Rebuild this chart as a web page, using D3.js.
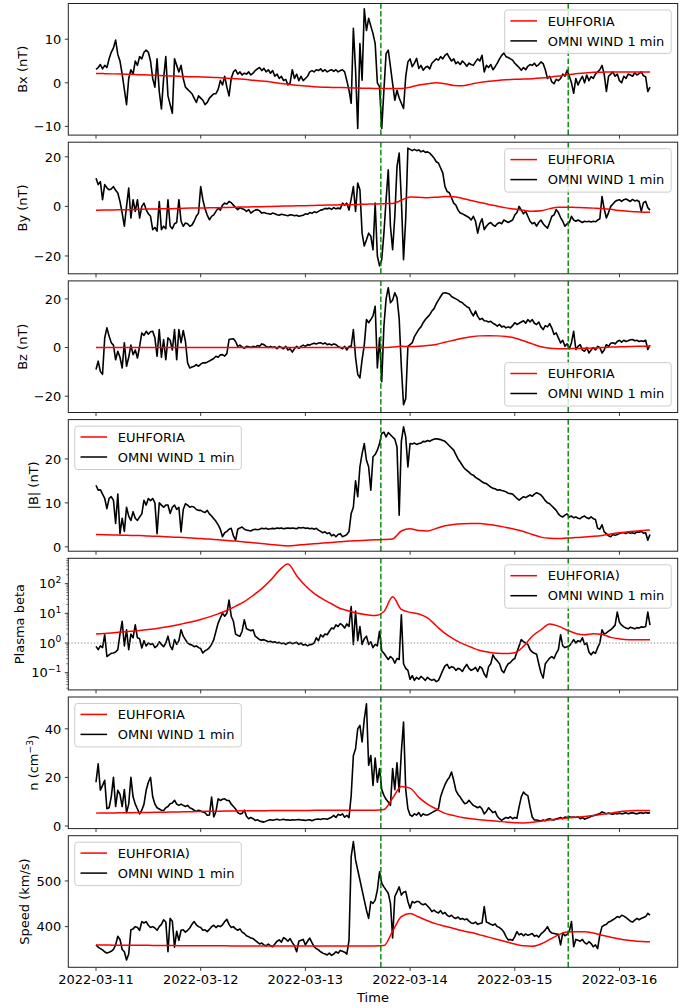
<!DOCTYPE html>
<html>
<head>
<meta charset="utf-8">
<script src="https://cdn.jsdelivr.net/npm/d3@7"></script>
<style>
  body { margin: 0; background: #fff; }
  svg { display: block; font-family: "DejaVu Sans", sans-serif; }
</style>
</head>
<body>
<svg id="chart" width="692" height="1008"></svg>
<script>
// ---- time base -------------------------------------------------------------
const startUtc = Date.UTC(2022, 2, 11, 0, 0);   // 2022-03-11 00:00 UT
const omniStepHours = 0.5;                       // OMNI values resampled every 30 min
const euhforiaHours = d3.range(0, 127, 2).concat([127]);
const dayTicks = ["2022-03-11", "2022-03-12", "2022-03-13", "2022-03-14", "2022-03-15", "2022-03-16"];
const eventTimes = ["2022-03-13T17:18:00Z", "2022-03-15T12:15:00Z"];

// ---- OMNI WIND (one row = 5 hours) -----------------------------------------
const omniBx = [
  3.1, 3.5, 4.2, 3.2, 4.0, 3.5, 5.5, 7.0, 8.0, 9.8,
  6.5, 5.0, 2.0, -1.5, -5.0, 1.0, 3.0, 2.0, 5.0, 4.0,
  6.0, 5.5, 7.0, 7.5, 7.0, 5.0, 1.0, -1.0, 5.5, -2.0,
  -6.0, 1.0, 6.0, -3.0, -5.0, -7.0, 5.5, 4.0, 2.5, 4.0,
  1.0, -1.0, -1.5, -2.0, -2.5, -3.5, -4.5, -3.0, -3.5, -4.0,
  -5.0, -4.5, -3.5, -3.0, -2.5, -2.5, -1.5, 0.5, -0.5, 1.5,
  -1.0, -3.0, 1.0, 2.5, 3.0, 2.0, 2.5, 1.8, 2.2, 2.0,
  2.5, 1.8, 2.2, 2.8, 3.2, 3.5, 2.8, 3.3, 2.5, 3.0,
  2.2, 2.8, 1.5, 2.0, 1.0, 1.5, 0.5, 0.8, -0.5, 0.0,
  3.0, 1.0, 2.0, 0.5, 1.5, 0.5, 1.0, 1.5, 2.5, 2.8,
  2.5, 3.0, 2.8, 3.2, 2.6, 3.0, 2.5, 2.8, 3.0, 2.6,
  3.0, 2.5, 2.8, 3.0, 2.5, 0.5, -1.7, -4.7, 12.5, 3.0,
  -10.5, 9.0, 0.6, 17.0, 12.0, 14.8, 13.0, 11.3, 9.0, 0.0,
  -0.9, -10.5, -1.7, 6.7, 7.5, 3.7, -0.2, -4.0, -1.7, -3.5,
  -4.7, -5.9, 1.4, 4.8, 5.5, 3.7, 4.5, 5.6, 3.3, 4.0,
  2.9, 3.5, 3.8, 3.2, 4.5, 5.0, 5.5, 5.2, 6.0, 5.5,
  6.3, 6.7, 5.8, 5.0, 5.5, 4.4, 4.8, 4.2, 5.0, 4.5,
  3.8, 4.5, 4.2, 4.0, 4.8, 5.5, 5.0, 6.3, 2.5, 4.0,
  3.5, 4.2, 3.0, 3.7, 4.5, 5.5, 6.3, 6.8, 6.0, 5.8,
  5.5, 5.2, 4.5, 4.0, 3.5, 2.9, 3.5, 3.0, 3.8, 4.2,
  4.0, 4.5, 3.8, 4.2, 4.8, 4.4, 3.0, 1.0, 1.5, 0.2,
  -0.2, 0.8, 0.5, 1.0, 2.0, 1.5, 2.9, 1.5, 0.0, -2.4,
  1.0, -0.5, 0.6, 1.5, 0.0, 1.8, 0.5, 1.4, 1.0, 2.0,
  2.5, 3.0, 4.0, 2.0, -2.0, 1.5, 2.0, 2.5, 1.5, 2.0,
  0.5, 0.0, 1.5, 1.0, 2.0, 1.8, 1.5, 2.3, 1.8, 2.1,
  2.5, 1.6, 1.4, -2.0, -1.0
];

const omniBy = [
  11.4, 8.8, 10.0, 2.7, 8.8, 7.5, 6.7, 7.0, 8.0, 6.5,
  5.4, 2.0, -2.7, -8.0, 0.0, 7.4, -4.7, 2.7, -2.0, 2.7,
  -4.7, 0.0, 1.3, -1.3, -3.0, -4.0, -9.4, -8.5, -10.0, 2.0,
  -9.4, -8.0, -9.0, 2.7, -8.0, -9.0, -7.0, -6.5, 2.7, -6.0,
  -8.0, -6.7, -7.0, -8.0, -7.5, -6.0, -4.0, -2.7, 8.0, 2.7,
  -1.0, -3.5, -5.4, -4.0, -3.4, -2.0, -0.7, -1.5, 0.5, 1.3,
  1.0, 2.0, 1.5, 0.5, -0.5, -1.3, -0.5, -1.0, -1.3, -2.0,
  -1.3, -2.7, -2.0, -1.5, -1.3, -1.8, -2.7, -2.5, -2.8, -3.0,
  -3.2, -2.7, -3.0, -3.4, -3.6, -3.2, -3.4, -3.6, -3.8, -3.4,
  -3.5, -3.8, -3.6, -4.0, -3.8, -3.6, -3.0, -3.2, -2.5, -2.8,
  -2.2, -2.5, -2.0, -1.5, -1.3, -0.8, -1.0, -0.7, -1.2, -0.5,
  -1.0, -0.7, -1.0, 1.3, 0.5, 1.3, -1.5, 3.0, 8.0, -2.0,
  9.4, 6.7, -10.8, -16.0, -13.5, -10.8, -12.0, -17.5, 1.3, -20.0,
  -24.0, -21.5, -10.8, 2.7, 14.8, -8.0, -17.5, -4.0, 16.0, 21.5,
  2.7, -21.5, -5.0, 23.5, 23.0, 22.5, 23.0, 22.5, 22.8, 22.0,
  22.5, 21.8, 22.0, 21.5, 20.5, 19.5, 18.0, 17.5, 15.5, 13.5,
  8.0, 6.0, 5.5, 3.5, 1.3, 0.5, -1.5, -2.7, -3.0, -3.5,
  -4.0, -4.5, -5.5, -4.0, -6.0, -10.8, -7.0, -5.0, -9.4, -8.0,
  -7.0, -6.5, -7.5, -8.0, -7.0, -6.5, -7.0, -5.5, -6.0, -6.5,
  -6.0, -5.5, -3.5, -2.5, 0.0, -1.5, -3.0, -2.0, -4.0, -6.0,
  -7.0, -6.5, -8.0, -6.5, -5.5, -7.0, -8.0, -8.8, -6.5, -4.0,
  -3.5, -1.3, -2.5, -4.5, -6.0, -8.0, -7.0, -6.5, -4.0, -5.5,
  -6.0, -5.5, -6.0, -6.5, -6.0, -6.2, -6.0, -6.3, -6.0, -6.2,
  -5.5, -5.0, 4.0, -1.0, -4.7, -2.5, 0.0, 1.0, 2.0, 2.5,
  2.7, 2.0, 2.7, 3.0, 2.5, 2.0, 2.8, 2.2, 2.5, 2.0,
  -2.0, 1.5, 2.0, -0.5, -1.5
];

const omniBz = [
  -9.0, -5.6, -9.8, -11.0, 4.0, 8.1, 4.7, 2.0, 1.0, -5.0,
  -1.5, -4.0, -8.4, 2.0, -7.7, -4.0, 1.0, -2.9, -1.0, -4.3,
  0.5, 6.0, 5.0, 6.7, 5.5, 6.5, 6.7, 4.0, -3.6, 7.4,
  -4.0, 3.3, -5.0, 4.0, 3.0, -1.0, 7.4, -5.0, 7.4, 2.0,
  7.0, 2.6, -6.3, -8.4, -8.0, -7.7, -7.0, -7.7, -6.8, -6.3,
  -6.3, -6.0, -5.5, -5.0, -4.5, -3.6, -4.0, -3.0, -2.9, -3.5,
  -2.5, 3.3, 3.5, 3.6, 2.5, 0.5, 1.0, 0.2, -0.3, 0.5,
  0.3, 0.0, 0.5, 0.2, 0.8, 0.5, 1.5, 1.2, 0.5, 0.0,
  0.5, 0.0, 0.3, -0.5, 0.5, 0.0, -0.5, 0.5, -1.0, -0.5,
  -1.9, -0.5, 0.5, -0.3, 0.5, 1.0, 0.5, 1.2, 1.0, 1.5,
  1.8, 1.5, 1.9, 2.0, 1.5, 1.9, 1.2, 1.5, 1.0, 1.5,
  1.2, 0.5, 0.0, -0.5, 0.5, -1.0, 0.5, 0.5, 7.4, -4.0,
  -11.0, -12.5, -5.0, 1.0, 11.5, 10.2, 11.5, 13.0, 17.0, -8.4,
  4.0, -14.0, 8.8, 20.0, 24.6, 18.4, 19.5, 22.5, 20.5, 12.0,
  -8.0, -23.5, -21.0, 0.5, 1.2, 2.0, 4.5, 6.0, 7.5, 8.5,
  10.2, 11.5, 12.5, 13.5, 15.0, 16.0, 18.0, 19.5, 21.0, 22.3,
  22.5, 22.3, 22.0, 21.0, 20.5, 20.0, 19.5, 18.8, 18.4, 17.5,
  16.8, 16.4, 14.5, 13.0, 15.0, 12.8, 11.5, 12.0, 11.0, 10.9,
  10.5, 10.8, 10.0, 9.5, 8.8, 9.5, 8.5, 8.8, 8.1, 8.5,
  8.1, 9.0, 10.2, 9.5, 10.0, 10.5, 11.0, 10.0, 11.5, 10.5,
  11.5, 10.0, 9.5, 10.5, 8.5, 7.4, 9.0, 8.5, 9.8, 8.0,
  5.4, 6.0, 4.0, 1.9, 3.0, 0.5, 1.5, -0.5, 2.0, 6.7,
  -0.8, 0.5, 1.2, -1.0, -1.5, 0.0, -2.2, -1.0, 0.0, -1.0,
  0.5, 0.0, -2.2, -1.0, 1.2, 0.5, 1.8, 2.0, 1.5, 2.5,
  3.0, 2.2, 3.0, 2.5, 2.8, 3.2, 3.3, 2.8, 3.0, 2.5,
  2.8, 2.5, 3.0, -0.8, 1.0
];

const omniBtot = [
  14.0, 12.9, 13.0, 12.0, 11.0, 8.7, 11.0, 11.4, 10.6, 5.3,
  12.0, 3.0, 6.5, 3.5, 9.0, 7.0, 6.0, 8.0, 6.5, 6.0,
  6.8, 7.5, 10.6, 9.5, 11.0, 10.5, 11.0, 10.0, 3.0, 10.0,
  9.5, 9.0, 9.5, 9.5, 7.6, 9.0, 9.5, 8.5, 9.0, 3.4,
  8.5, 9.8, 9.5, 9.0, 9.2, 9.0, 8.5, 8.3, 8.3, 8.0,
  7.8, 8.3, 7.5, 7.0, 6.4, 5.8, 5.0, 4.0, 2.3, 3.2,
  3.5, 4.0, 4.2, 2.5, 1.5, 4.0, 4.3, 4.5, 4.0, 3.8,
  3.7, 3.6, 3.9, 4.0, 3.9, 4.0, 4.2, 4.1, 4.2, 4.0,
  4.1, 4.2, 4.1, 4.3, 4.2, 4.3, 4.1, 4.2, 4.3, 4.2,
  4.3, 4.2, 4.1, 4.4, 4.3, 4.4, 4.2, 4.3, 4.1, 4.2,
  4.0, 4.2, 3.8, 3.5, 3.2, 3.4, 3.0, 3.2, 2.5, 2.8,
  2.3, 2.8, 3.0, 2.3, 2.5, 2.8, 3.5, 7.6, 9.0, 15.0,
  11.4, 18.2, 21.2, 23.5, 19.7, 18.2, 12.9, 20.5, 21.0, 22.0,
  23.5, 25.8, 26.1, 25.0, 26.0, 25.5, 25.0, 24.5, 22.7, 7.2,
  24.0, 27.3, 25.0, 18.2, 23.5, 23.4, 23.6, 23.3, 23.5, 23.6,
  24.0, 23.9, 24.2, 24.0, 24.3, 24.5, 24.6, 24.5, 24.4, 24.2,
  24.0, 23.5, 23.0, 22.5, 22.0, 21.0, 20.0, 19.3, 18.5, 17.8,
  17.4, 17.0, 16.5, 16.3, 15.8, 15.5, 15.2, 14.8, 14.5, 14.4,
  14.0, 13.6, 13.3, 13.2, 12.9, 13.0, 12.8, 12.7, 12.5, 12.2,
  12.1, 12.0, 11.5, 11.0, 10.6, 11.0, 11.4, 11.2, 11.5, 11.8,
  11.5, 12.0, 12.3, 12.1, 11.8, 11.2, 10.5, 10.0, 9.8, 9.3,
  8.8, 8.3, 7.5, 7.0, 6.8, 7.2, 7.5, 6.8, 7.0, 6.6,
  6.8, 6.5, 6.4, 6.8, 7.0, 6.6, 6.4, 6.8, 6.4, 6.2,
  4.2, 4.0, 5.0, 3.4, 3.0, 2.5, 2.3, 2.8, 2.6, 2.8,
  3.0, 3.2, 3.2, 3.0, 3.3, 3.1, 3.2, 3.0, 3.4, 3.3,
  3.5, 3.1, 3.2, 1.5, 2.8
];

const omniBeta = [
  0.77, 0.6, 0.8, 0.7, 1.9, 0.35, 0.4, 0.45, 0.46, 0.5,
  0.6, 2.0, 5.4, 0.8, 2.8, 0.6, 2.0, 1.5, 4.1, 1.5,
  1.4, 0.68, 1.2, 0.8, 1.0, 0.9, 0.95, 0.7, 0.8, 1.1,
  0.9, 0.75, 1.0, 1.7, 0.8, 0.6, 1.3, 0.9, 1.2, 2.8,
  1.7, 1.3, 1.0, 0.9, 0.85, 0.75, 0.8, 0.7, 0.65, 0.46,
  0.55, 0.6, 0.7, 0.9, 1.3, 2.5, 4.7, 7.0, 10.2, 8.0,
  10.0, 28.0, 8.0, 5.4, 2.0, 1.8, 1.7, 2.5, 6.1, 3.0,
  2.8, 2.6, 2.8, 1.7, 1.5, 1.3, 1.25, 1.3, 1.2, 1.1,
  1.15, 1.05, 1.1, 1.0, 1.05, 0.95, 1.0, 0.9, 1.0, 1.05,
  0.95, 1.0, 1.05, 0.9, 1.0, 0.85, 0.9, 0.8, 0.88, 0.9,
  1.0, 1.5, 1.2, 1.9, 1.6, 2.0, 1.9, 2.5, 3.2, 3.0,
  4.1, 3.6, 4.5, 4.0, 3.2, 4.4, 3.6, 17.0, 0.9, 12.0,
  1.2, 3.6, 0.9, 1.4, 1.7, 0.9, 1.1, 0.7, 0.9, 0.8,
  2.5, 0.55, 0.45, 0.35, 0.28, 0.35, 0.3, 0.21, 0.3, 0.28,
  9.0, 0.2, 0.14, 0.12, 0.06, 0.08, 0.055, 0.07, 0.06, 0.075,
  0.065, 0.055, 0.07, 0.06, 0.055, 0.06, 0.05, 0.055, 0.08, 0.12,
  0.17, 0.19, 0.14, 0.16, 0.15, 0.12, 0.14, 0.13, 0.11, 0.15,
  0.19, 0.14, 0.12, 0.13, 0.15, 0.11, 0.16, 0.14, 0.09, 0.07,
  0.16, 0.2, 0.4, 0.3, 0.25, 0.2, 0.12, 0.1, 0.15, 0.2,
  0.22, 0.27, 0.3, 0.5, 0.8, 1.3, 1.1, 1.0, 0.9, 0.6,
  0.5, 0.45, 0.42, 0.2, 0.1, 0.066, 0.2, 0.25, 0.31, 0.35,
  0.3, 0.45, 0.6, 1.9, 0.8, 0.7, 0.75, 0.8, 1.0, 1.3,
  1.0, 1.2, 1.1, 1.5, 0.9, 1.0, 0.5, 0.4, 0.5, 0.45,
  0.7, 1.0, 2.8, 2.0, 2.2, 2.5, 2.8, 3.3, 4.0, 11.0,
  5.0, 4.0, 3.5, 3.2, 3.0, 3.4, 3.2, 3.0, 3.3, 3.2,
  3.5, 3.4, 3.6, 11.0, 4.0
];

const omniDensity = [
  18.0, 25.6, 14.7, 16.7, 18.8, 7.1, 7.5, 12.0, 20.0, 8.0,
  14.7, 13.0, 8.0, 15.0, 5.5, 9.0, 20.0, 12.0, 9.0, 7.0,
  5.0, 6.5, 9.0, 14.7, 18.0, 20.0, 12.0, 9.0, 7.5, 7.0,
  6.5, 6.4, 7.5, 8.0, 9.2, 9.5, 10.6, 9.0, 8.5, 9.0,
  8.5, 8.0, 8.5, 7.5, 7.1, 6.5, 6.0, 6.5, 6.2, 5.8,
  5.5, 4.4, 4.5, 11.9, 3.7, 6.0, 11.2, 10.5, 11.0, 11.2,
  10.5, 10.5, 9.0, 8.0, 7.0, 5.5, 5.0, 5.2, 6.5, 4.0,
  3.0, 3.5, 3.0, 2.3, 2.6, 2.0, 1.8, 1.6, 2.0, 2.4,
  2.6, 2.4, 2.6, 2.8, 2.5, 2.6, 2.8, 2.5, 2.6, 2.4,
  2.6, 2.5, 2.6, 2.7, 2.5, 2.4, 2.3, 2.5, 2.6, 2.2,
  2.6, 2.8, 2.9, 2.7, 3.0, 3.0, 2.8, 3.2, 3.6, 4.4,
  3.5, 4.8, 4.4, 5.0, 3.6, 4.4, 3.4, 12.6, 29.0, 31.8,
  40.0, 41.4, 34.6, 44.0, 50.3, 25.0, 29.0, 16.7, 28.0, 18.0,
  23.6, 15.0, 12.6, 11.0, 9.9, 8.5, 23.6, 15.0, 26.0, 14.0,
  30.5, 42.8, 15.0, 7.1, 4.5, 4.0, 5.0, 4.5, 5.5, 4.0,
  5.0, 4.5, 4.5, 5.0, 5.5, 6.0, 6.5, 7.1, 12.0, 14.7,
  17.0, 18.8, 20.0, 22.2, 18.8, 14.7, 13.0, 11.9, 10.5, 9.2,
  9.5, 10.6, 9.5, 8.5, 8.0, 7.5, 8.0, 7.0, 5.0, 6.0,
  7.5, 6.5, 5.5, 6.0, 4.0, 3.0, 2.3, 3.0, 3.5, 3.2,
  3.8, 3.0, 3.5, 3.2, 8.0, 12.0, 14.0, 13.0, 12.5, 7.8,
  3.7, 2.5, 2.5, 2.3, 2.0, 2.5, 2.2, 2.8, 3.0, 2.6,
  2.5, 3.0, 3.2, 3.5, 3.0, 3.7, 3.5, 3.8, 3.6, 3.7,
  3.5, 3.8, 3.0, 3.5, 2.8, 3.2, 3.5, 4.0, 4.2, 4.5,
  4.8, 5.2, 5.8, 5.5, 5.0, 5.3, 5.0, 4.8, 5.2, 5.0,
  5.3, 5.0, 5.2, 5.5, 5.0, 5.3, 5.5, 5.2, 5.0, 5.3,
  5.5, 5.2, 5.6, 5.3, 5.5
];

const omniSpeed = [
  360, 355, 352, 349, 345, 342, 344, 346, 350, 360,
  379, 372, 350, 345, 327, 340, 393, 395, 400, 398,
  392, 411, 408, 411, 403, 398, 400, 397, 392, 400,
  405, 415, 410, 345, 418, 412, 355, 390, 370, 392,
  393, 388, 392, 397, 405, 411, 404, 400, 398, 392,
  393, 389, 394, 400, 403, 398, 402, 400, 404, 411,
  416, 405, 398, 400, 395, 392, 395, 388, 385, 380,
  378, 375, 374, 370, 366, 362, 364, 360, 358, 362,
  358, 356, 362, 368, 371, 366, 376, 373, 368, 374,
  365, 358, 345, 368, 370, 372, 360, 368, 375, 365,
  356, 352, 349, 345, 342, 340, 338, 342, 337, 340,
  345, 342, 348, 346, 344, 340, 370, 553, 586, 546,
  524, 502, 480, 458, 436, 418, 455, 451, 458, 480,
  520, 495, 487, 480, 473, 451, 375, 466, 476, 487,
  469, 475, 477, 455, 440, 455, 452, 455, 455, 450,
  448, 450, 445, 440, 433, 436, 432, 430, 435, 428,
  431, 425, 422, 425, 420, 418, 421, 416, 418, 415,
  417, 412, 408, 407, 410, 405, 407, 408, 444, 410,
  408, 405, 403, 406, 400, 398, 394, 388, 378, 371,
  372, 370, 378, 389, 382, 385, 380, 384, 381, 383,
  385, 379, 381, 377, 384, 388, 393, 400, 390, 386,
  385, 384, 383, 360, 386, 380, 383, 390, 411, 356,
  372, 370, 368, 372, 365, 362, 367, 363, 356, 360,
  352, 382, 400, 403, 405, 410, 412, 415, 418, 422,
  420, 425, 423, 420, 416, 412, 410, 414, 418, 415,
  418, 420, 422, 429, 425
];

// ---- EUHFORIA model (one value per entry of euhforiaHours) -----------------
const euhBx = [
  2.15, 2.1, 2.05, 2.0, 1.95, 1.85, 1.8, 1.7, 1.6, 1.55,
  1.45, 1.4, 1.35, 1.3, 1.2, 1.05, 0.95, 0.8, 0.6, 0.4,
  0.2, -0.1, -0.35, -0.55, -0.75, -0.9, -1.0, -1.05, -1.1, -1.15,
  -1.2, -1.25, -1.3, -1.3, -1.3, -1.3, -1.0, -0.5, -0.2, 0.0,
  -0.2, -0.6, -0.7, -0.3, 0.1, 0.35, 0.55, 0.7, 0.8, 0.85,
  0.95, 1.1, 1.3, 1.55, 1.85, 2.1, 2.25, 2.4, 2.45, 2.5,
  2.5, 2.5, 2.5, 2.5, 2.5
];
const euhBy = [
  -1.6, -1.5, -1.45, -1.35, -1.3, -1.2, -1.1, -1.05, -0.95, -0.9,
  -0.8, -0.7, -0.65, -0.55, -0.5, -0.4, -0.3, -0.25, -0.15, -0.1,
  0.0, 0.1, 0.15, 0.25, 0.3, 0.4, 0.5, 0.55, 0.65, 0.7,
  0.8, 0.9, 1.0, 1.1, 1.2, 2.5, 3.8, 3.7, 3.5, 3.7,
  4.0, 3.9, 3.2, 2.4, 1.6, 0.8, 0.1, -0.6, -1.1, -1.6,
  -2.0, -1.8, -0.9, -0.3, -0.3, -0.4, -0.5, -0.7, -0.9, -1.2,
  -1.7, -2.0, -2.2, -2.4, -2.4
];
const euhBz = [
  0, 0, 0, 0, 0, 0, 0, 0, 0, 0,
  0, 0, 0, 0, 0, 0, 0, 0, 0, 0,
  0, 0, 0, 0, 0, 0, 0, 0, 0, 0,
  0, 0, 0, 0, 0.2, 0.5, 0.4, 0.5, 0.8, 1.3,
  2.2, 3.0, 3.8, 4.4, 4.8, 4.9, 4.8, 4.5, 3.9, 2.8,
  1.5, 0.3, -0.3, -0.5, -0.5, -0.4, -0.3, -0.2, 0.0, 0.2,
  0.3, 0.4, 0.5, 0.5, 0.5
];
const euhBtot = [
  2.8, 2.75, 2.7, 2.65, 2.6, 2.55, 2.45, 2.4, 2.3, 2.2,
  2.1, 2.0, 1.9, 1.75, 1.6, 1.45, 1.3, 1.1, 0.95, 0.75,
  0.55, 0.35, 0.2, 0.35, 0.55, 0.7, 0.85, 1.0, 1.15, 1.3,
  1.4, 1.5, 1.6, 1.65, 1.8, 3.6, 4.1, 3.7, 3.6, 4.2,
  4.8, 5.1, 5.25, 5.3, 5.3, 5.1, 4.8, 4.4, 4.0, 3.5,
  2.8, 2.2, 1.95, 1.9, 2.0, 2.1, 2.25, 2.4, 2.6, 2.9,
  3.2, 3.45, 3.6, 3.75, 3.8
];
const euhBeta = [
  2.0, 2.1, 2.2, 2.35, 2.5, 2.65, 2.85, 3.1, 3.45, 3.9,
  4.5, 5.2, 6.2, 7.6, 9.6, 12.5, 17.5, 25, 40, 68,
  130, 280, 460, 185, 85, 47, 30, 21, 14.5, 12,
  10, 9.0, 8.4, 11.5, 36, 13.5, 10.8, 9.5, 7.0, 3.8,
  2.1, 1.36, 0.95, 0.72, 0.56, 0.49, 0.45, 0.44, 0.47, 0.77,
  1.7, 2.8, 4.4, 3.7, 2.7, 2.1, 1.9, 2.05, 1.95, 1.55,
  1.38, 1.3, 1.3, 1.3, 1.3
];
const euhDensity = [
  5.3, 5.35, 5.4, 5.45, 5.5, 5.55, 5.6, 5.65, 5.7, 5.75,
  5.85, 5.9, 6.0, 6.05, 6.1, 6.15, 6.2, 6.25, 6.3, 6.3,
  6.35, 6.35, 6.4, 6.4, 6.4, 6.45, 6.45, 6.5, 6.5, 6.5,
  6.5, 6.5, 6.5, 6.8, 11.5, 16.3, 15.6, 11.8, 9.0, 7.0,
  5.2, 4.3, 3.5, 3.0, 2.6, 2.3, 2.0, 1.6, 1.3, 1.25,
  1.5, 2.0, 2.5, 2.9, 3.3, 3.6, 3.9, 4.3, 4.8, 5.3,
  5.9, 6.2, 6.4, 6.4, 6.4
];
const euhSpeed = [
  360, 360, 359.5, 359.5, 359, 359, 359, 358.5, 358.5, 358.5,
  358, 358, 358, 358, 358, 358, 357.5, 357.5, 357.5, 357.5,
  357.5, 357.5, 357.5, 357.5, 357.5, 357.5, 357.5, 357.5, 357.5, 357.5,
  357.5, 357.5, 357.5, 358.5, 390, 422, 429, 421, 413, 406,
  401, 396, 391, 387, 382, 377, 372, 367, 362, 358,
  357, 362, 372, 382, 388, 389, 389, 386, 381, 377,
  373, 370, 368, 367, 367
];

// ---- axis ticks ------------------------------------------------------------
const bxTicks = [-10, 0, 10];
const byTicks = [-20, 0, 20];
const bzTicks = [-20, 0, 20];
const btotTicks = [0, 10, 20];
const betaTicks = [0.1, 1, 10, 100];
const densityTicks = [0, 20, 40];
const speedTicks = [400, 500];

const seriesNames = { model: "EUHFORIA", modelAlt: "EUHFORIA)", obs: "OMNI WIND 1 min" };

// ---- layout ----------------------------------------------------------------
const X0 = 68.3, X1 = 677.7;
const TOP0 = 3.5, PITCH = 138.7, PANEL_H = 131.6;
const FONT = 13;

const panels = [
  { label: [["Bx (nT)"]], omni: omniBx, euh: euhBx, domain: [-12.0, 18.2], ticks: bxTicks, legend: "ur", model: seriesNames.model },
  { label: [["By (nT)"]], omni: omniBy, euh: euhBy, domain: [-27.2, 25.9], ticks: byTicks, legend: "ur", model: seriesNames.model },
  { label: [["Bz (nT)"]], omni: omniBz, euh: euhBz, domain: [-26.7, 27.4], ticks: bzTicks, legend: "lr", model: seriesNames.model },
  { label: [["|B| (nT)"]], omni: omniBtot, euh: euhBtot, domain: [-1.0, 28.95], ticks: btotTicks, legend: "ul", model: seriesNames.model },
  { label: [["Plasma beta"]], omni: omniBeta, euh: euhBeta, domain: [Math.pow(10, -1.58), Math.pow(10, 2.855)], log: true, ticks: betaTicks, legend: "ur", model: seriesNames.modelAlt, refLine: 1 },
  { label: [["n (cm"], ["\u22123", "sup"], [")"]], omni: omniDensity, euh: euhDensity, domain: [-1.07, 53.1], ticks: densityTicks, legend: "ul", model: seriesNames.model },
  { label: [["Speed (km/s)"]], omni: omniSpeed, euh: euhSpeed, domain: [311, 599], ticks: speedTicks, legend: "ul", model: seriesNames.modelAlt }
];

const HOUR = 3600e3;
const omniTime = i => new Date(startUtc + i * omniStepHours * HOUR);
const euhTimes = euhforiaHours.map(h => new Date(startUtc + h * HOUR));

const tFirst = startUtc;
const tLast = Math.max(omniTime(omniBx.length - 1).getTime(), euhTimes[euhTimes.length - 1].getTime());
const span = tLast - tFirst;
const x = d3.scaleUtc()
  .domain([new Date(tFirst - 0.05 * span), new Date(tLast + 0.05 * span)])
  .range([X0, X1]);

const dayDates = dayTicks.map(s => new Date(s + "T00:00:00Z"));
const events = eventTimes.map(s => new Date(s));

const fmtNum = v => (v < 0 ? "\u2212" + Math.abs(v) : String(v));
const expLabel = v => {
  const e = Math.round(Math.log10(v));
  return e < 0 ? "\u2212" + Math.abs(e) : String(e);
};

const svg = d3.select("#chart");
const defs = svg.append("defs");

panels.forEach((p, i) => {
  const top = TOP0 + i * PITCH;
  const bottom = top + PANEL_H;
  const y = (p.log ? d3.scaleLog() : d3.scaleLinear()).domain(p.domain).range([bottom, top]);

  defs.append("clipPath").attr("id", "plot-clip-" + i)
    .append("rect").attr("x", X0).attr("y", top).attr("width", X1 - X0).attr("height", PANEL_H);

  const g = svg.append("g");
  const plot = g.append("g").attr("clip-path", `url(#plot-clip-${i})`);

  // observed series
  const obsLine = d3.line().x((d, j) => x(omniTime(j))).y(d => y(d));
  plot.append("path")
    .attr("d", obsLine(p.omni))
    .attr("fill", "none").attr("stroke", "#000").attr("stroke-width", 1.6)
    .attr("stroke-linejoin", "round");

  // model series
  const modelLine = d3.line().x((d, j) => x(euhTimes[j])).y(d => y(d)).curve(d3.curveMonotoneX);
  plot.append("path")
    .attr("d", modelLine(p.euh))
    .attr("fill", "none").attr("stroke", "#ff0000").attr("stroke-width", 1.5);

  // beta = 1 reference
  if (p.refLine != null) {
    plot.append("line")
      .attr("x1", X0).attr("x2", X1).attr("y1", y(p.refLine)).attr("y2", y(p.refLine))
      .attr("stroke", "#808080").attr("stroke-width", 1.1).attr("stroke-dasharray", "1.2 2");
  }

  // event markers
  events.forEach(t => {
    plot.append("line")
      .attr("x1", x(t)).attr("x2", x(t)).attr("y1", bottom).attr("y2", top)
      .attr("stroke", "#008000").attr("stroke-width", 1.4).attr("stroke-dasharray", "5.5 2.4");
  });

  // frame
  g.append("rect")
    .attr("x", X0).attr("y", top).attr("width", X1 - X0).attr("height", PANEL_H)
    .attr("fill", "none").attr("stroke", "#222").attr("stroke-width", 1);

  // x ticks
  dayDates.forEach(d => {
    g.append("line").attr("x1", x(d)).attr("x2", x(d)).attr("y1", bottom).attr("y2", bottom + 3.5)
      .attr("stroke", "#222").attr("stroke-width", 0.9);
  });

  // y ticks
  const tickG = g.append("g");
  p.ticks.forEach(v => {
    const yy = y(v);
    tickG.append("line").attr("x1", X0 - 3.5).attr("x2", X0).attr("y1", yy).attr("y2", yy)
      .attr("stroke", "#222").attr("stroke-width", 0.9);
  });
  if (p.log) {
    const [lo, hi] = p.domain;
    for (let e = Math.floor(Math.log10(lo)); e <= Math.ceil(Math.log10(hi)); e++) {
      for (let m = 2; m <= 9; m++) {
        const v = m * Math.pow(10, e);
        if (v <= lo || v >= hi) continue;
        tickG.append("line").attr("x1", X0 - 2).attr("x2", X0).attr("y1", y(v)).attr("y2", y(v))
          .attr("stroke", "#222").attr("stroke-width", 0.6);
      }
    }
  }
  const labels = tickG.selectAll("text.tick").data(p.ticks).enter().append("text")
    .attr("class", "tick")
    .attr("x", X0 - 7).attr("y", v => y(v) + 4.7)
    .attr("text-anchor", "end").attr("font-size", FONT).attr("fill", "#000");
  if (p.log) {
    labels.each(function (v) {
      const t = d3.select(this);
      t.append("tspan").text("10");
      t.append("tspan").attr("dy", -5.5).attr("font-size", 9.2).text(expLabel(v));
    });
  } else {
    labels.text(fmtNum);
  }

  // y label, placed just left of the tick labels
  const minX = d3.min(labels.nodes(), n => n.getBBox().x);
  const yl = g.append("text")
    .attr("transform", `translate(${minX - 7.2},${(top + bottom) / 2}) rotate(-90)`)
    .attr("text-anchor", "middle").attr("font-size", FONT).attr("fill", "#000");
  p.label.forEach(([txt, kind]) => {
    const ts = yl.append("tspan").text(txt);
    if (kind === "sup") ts.attr("dy", -5).attr("font-size", 9.2);
    else if (yl.selectAll("tspan").size() > 1) ts.attr("dy", 5);
  });

  // legend
  const LW = 166.5, LH = 43.4, PAD = 6.5;
  const lx = p.legend.endsWith("r") ? X1 - PAD - LW : X0 + PAD;
  const ly = p.legend.startsWith("u") ? top + PAD : bottom - PAD - LH;
  const lg = g.append("g");
  lg.append("rect").attr("x", lx).attr("y", ly).attr("width", LW).attr("height", LH)
    .attr("rx", 2.8).attr("fill", "#fff").attr("fill-opacity", 0.8)
    .attr("stroke", "#cccccc").attr("stroke-width", 1);
  [[p.model, "#ff0000"], [seriesNames.obs, "#000"]].forEach(([name, col], k) => {
    const cy = ly + 10.9 + k * 20;
    lg.append("line").attr("x1", lx + 5.7).attr("x2", lx + 32.3).attr("y1", cy).attr("y2", cy)
      .attr("stroke", col).attr("stroke-width", 1.5);
    lg.append("text").attr("x", lx + 43).attr("y", cy + 4.7)
      .attr("font-size", FONT).attr("fill", "#000").text(name);
  });

  // date labels under the last panel
  if (i === panels.length - 1) {
    const fmt = d3.utcFormat("%Y-%m-%d");
    dayDates.forEach(d => {
      g.append("text").attr("x", x(d)).attr("y", bottom + 16.8)
        .attr("text-anchor", "middle").attr("font-size", FONT).attr("fill", "#000").text(fmt(d));
    });
    g.append("text").attr("x", (X0 + X1) / 2).attr("y", bottom + 34.2)
      .attr("text-anchor", "middle").attr("font-size", FONT).attr("fill", "#000").text("Time");
  }
});
</script>
</body>
</html>
